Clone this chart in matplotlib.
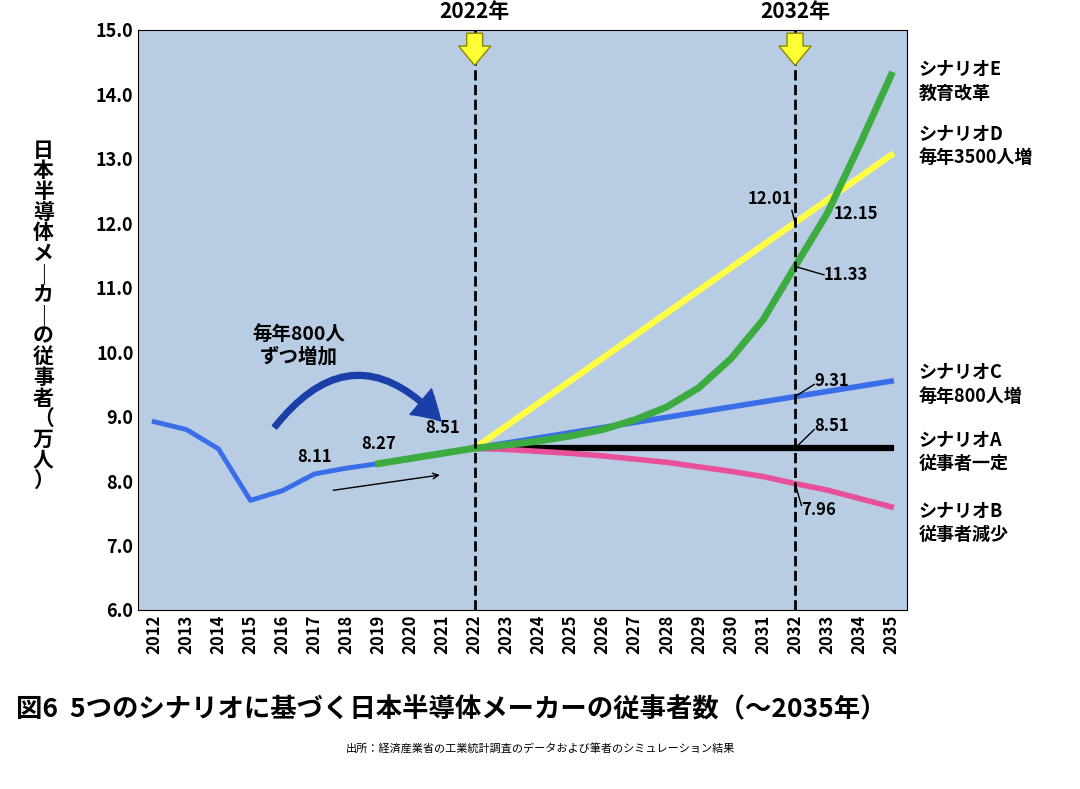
import matplotlib.pyplot as plt
from matplotlib.patches import FancyArrow, FancyArrowPatch

plt.rcParams['font.family'] = ['Noto Sans CJK JP', 'DejaVu Sans']

years = list(range(2012, 2036))
hist_years = list(range(2012, 2020))
hist_vals = [8.92, 8.80, 8.50, 7.70, 7.85, 8.11, 8.20, 8.27]
green_years = [2019, 2020, 2021, 2022]
green_vals = [8.27, 8.35, 8.43, 8.51]
scen_years = list(range(2022, 2036))
scen_a = [8.51] * 14
scen_b = [8.51, 8.49, 8.46, 8.43, 8.39, 8.34, 8.29, 8.22, 8.15, 8.07, 7.96, 7.86, 7.73, 7.60]
scen_c = [8.51, 8.59, 8.67, 8.75, 8.83, 8.91, 8.99, 9.07, 9.15, 9.23, 9.31, 9.39, 9.47, 9.55]
scen_d = [8.51, 8.86, 9.21, 9.56, 9.91, 10.26, 10.61, 10.96, 11.31, 11.66, 12.01, 12.36, 12.71, 13.06]
scen_e = [8.51, 8.56, 8.62, 8.70, 8.80, 8.95, 9.15, 9.45, 9.90, 10.50, 11.33, 12.15, 13.20, 14.30]

fig = plt.figure(figsize=(10.8, 7.89), dpi=100)
ax = fig.add_axes([0.128, 0.227, 0.712, 0.735])
ax.set_facecolor('#b8cce4')
x = lambda y: y - 2012

ax.plot([x(v) for v in hist_years], hist_vals, color='#3a6ee8', lw=3.5)
ax.plot([x(v) for v in scen_years], scen_c, color='#3a6ee8', lw=4)
ax.plot([x(v) for v in scen_years], scen_a, color='black', lw=4.5)
ax.plot([x(v) for v in scen_years], scen_b, color='#e8509a', lw=4)
ax.plot([x(v) for v in scen_years], scen_d, color='#ffff44', lw=4.5)
ax.plot([x(v) for v in scen_years], scen_e, color='#3cab40', lw=5)
ax.plot([x(v) for v in green_years], green_vals, color='#3cab40', lw=5)

for yr in (2022, 2032):
    ax.axvline(x(yr), color='black', ls='--', lw=2)
    ax.add_patch(FancyArrow(x(yr), 14.95, 0, -0.5, width=0.5, head_width=1.0,
                            head_length=0.3, length_includes_head=True,
                            facecolor='#ffff33', edgecolor='#888800', clip_on=False, zorder=5))
    ax.text(x(yr), 15.12, f'{yr}年', ha='center', va='bottom', fontsize=15, fontweight='bold')

ax.set_xlim(-0.5, 23.5)
ax.set_ylim(6, 15)
ax.set_xticks(range(24))
ax.set_xticklabels([str(y) for y in years], rotation=90, fontsize=12, fontweight='bold')
ax.set_yticks([6 + i for i in range(10)])
ax.set_yticklabels([f'{6 + i:.1f}' for i in range(10)], fontsize=13, fontweight='bold')
ax.tick_params(length=0)
ylab = '日本半導体メーカーの従事者（万人）'
fig.text(0.04, 0.6, '\n'.join(ylab.replace('ー', '｜')), ha='center', va='center',
         fontsize=15, fontweight='bold', linespacing=0.98)

kw = dict(fontsize=12, fontweight='bold')
ax.text(x(2017), 8.3, '8.11', ha='center', **kw)
ax.text(x(2019), 8.5, '8.27', ha='center', **kw)
ax.text(x(2021), 8.75, '8.51', ha='center', **kw)
ax.text(x(2031.2), 12.3, '12.01', ha='center', **kw)
ax.text(x(2033.2), 12.15, '12.15', ha='left', va='center', **kw)
ax.text(x(2032.9), 11.2, '11.33', ha='left', va='center', **kw)
ax.text(x(2032.6), 9.55, '9.31', ha='left', va='center', **kw)
ax.text(x(2032.6), 8.85, '8.51', ha='left', va='center', **kw)
ax.text(x(2032.2), 7.55, '7.96', ha='left', va='center', **kw)
lk = dict(color='black', lw=1)
ax.plot([x(2032) - 0.1, x(2032)], [12.2, 12.01], **lk)
ax.plot([x(2032), x(2032.9)], [11.33, 11.2], **lk)
ax.plot([x(2032), x(2032.6)], [9.31, 9.5], **lk)
ax.plot([x(2032), x(2032.6)], [8.51, 8.8], **lk)
ax.plot([x(2032), x(2032.2)], [7.96, 7.62], **lk)

ax.text(x(2016.5), 10.1, '毎年800人\nずつ増加', ha='center', va='center', fontsize=14, fontweight='bold')
ax.add_patch(FancyArrowPatch((x(2015.7), 8.8), (x(2021), 8.9), connectionstyle='arc3,rad=-0.6',
                             arrowstyle='simple,head_width=1.2,head_length=1', mutation_scale=20,
                             color='#1a3fa8'))
ax.annotate('', xy=(x(2021), 8.1), xytext=(x(2017.5), 7.85),
            arrowprops=dict(arrowstyle='->', color='black', lw=1))

labels = [(14.2, 'シナリオE\n教育改革'), (13.2, 'シナリオD\n毎年3500人増'),
          (9.5, 'シナリオC\n毎年800人増'), (8.45, 'シナリオA\n従事者一定'),
          (7.35, 'シナリオB\n従事者減少')]
for yv, t in labels:
    ax.text(1.015, (yv - 6) / 9, t, transform=ax.transAxes, ha='left', va='center',
            fontsize=13, fontweight='bold', linespacing=1.3)

fig.text(0.015, 0.1, '図6  5つのシナリオに基づく日本半導体メーカーの従事者数（～2035年）',
         fontsize=19, fontweight='bold', va='center')
fig.text(0.5, 0.052, '出所：経済産業省の工業統計調査のデータおよび筆者のシミュレーション結果',
         fontsize=8, ha='center', va='center')

fig.savefig('out.png', dpi=100)
